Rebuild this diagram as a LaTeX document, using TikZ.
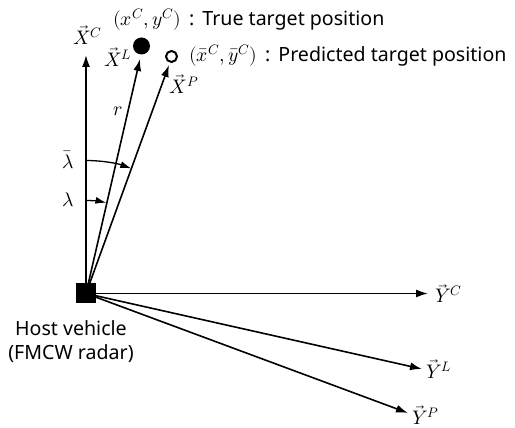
\documentclass[tikz,border=0pt]{standalone}
\usepackage{fontspec}
\usepackage{unicode-math}
\setmainfont{Noto Sans}
\setmathfont{latinmodern-math.otf}
\usetikzlibrary{arrows.meta, positioning, calc}

\begin{document}
\begin{tikzpicture}[
    x=1pt, y=1pt,
    node distance=4pt and 4pt,
    axis/.style={line width=1.6pt,-{Latex[length=12pt,width=8pt]}},
    angle/.style={line width=1.3pt,-{Latex[length=11pt,width=7pt]}},
    label/.style={font=\fontsize{19.6}{24}\selectfont,inner sep=0pt},
    host/.style={fill=black,minimum size=20pt,inner sep=0pt},
    truepos/.style={circle,fill=black,minimum size=17pt,inner sep=0pt},
    predpos/.style={circle,draw=black,line width=2pt,minimum size=11pt,inner sep=0pt},
  ]
    \useasboundingbox (0,0) rectangle (515,428);

    % axis tips
    \coordinate (xc) at (86,373);
    \coordinate (xl) at (140,369);
    \coordinate (xp) at (169,363);
    \coordinate (yc) at (428,134.5);
    \coordinate (yl) at (422,59);
    \coordinate (yp) at (408,15);

    \node[host] (radar) at (86,134.5) {};
    \node[truepos] (target) at (141.5,382) {};
    \node[predpos] (predicted) at (171.5,371.5) {};

    \draw[axis] (radar.center) -- (xc);
    \draw[axis] (radar.center) -- (xl);
    \draw[axis] (radar.center) -- (xp);
    \draw[axis] (radar.center) -- (yc);
    \draw[axis] (radar.center) -- (yl);
    \draw[axis] (radar.center) -- (yp);

    % angles
    \draw[angle] (radar.center) ++(90:133) arc[start angle=90,end angle=70.1,radius=133];
    \draw[angle] (radar.center) ++(90:93) arc[start angle=90,end angle=77.3,radius=93];

    \node[label] (lbar) at (68,268) {$\bar{\lambda}$};
    \node[label] (lam) at (68,228) {$\lambda$};
    \node[label] (rlen) at (118,317) {$r$};

    \node[label] (xclab) at (88,393) {$\vec{X}^{C}$};
    \node[label] (xllab) at (118,371) {$\vec{X}^{L}$};
    \node[label] (xplab) at (184,344) {$\vec{X}^{P}$};
    \node[label,right=7pt of yc] (yclab) {$\vec{Y}^{C}$};
    \node[label,right=4pt of yl] (yllab) {$\vec{Y}^{L}$};
    \node[label,right=4pt of yp,yshift=-2pt] (yplab) {$\vec{Y}^{P}$};

    \node[label,anchor=west] (truetext) at (113,408) {$(x^{C},y^{C})$\hspace{8pt}:\hspace{8pt}True target position};
    \node[label,anchor=west] (predtext) at (189,372) {$(\bar{x}^{C},\bar{y}^{C})$\hspace{8pt}:\hspace{8pt}Predicted target position};

    \node[label,align=center,below=17pt of radar,xshift=-15pt] (hosttext) {Host vehicle\\(FMCW radar)};
  \end{tikzpicture}
\end{document}
